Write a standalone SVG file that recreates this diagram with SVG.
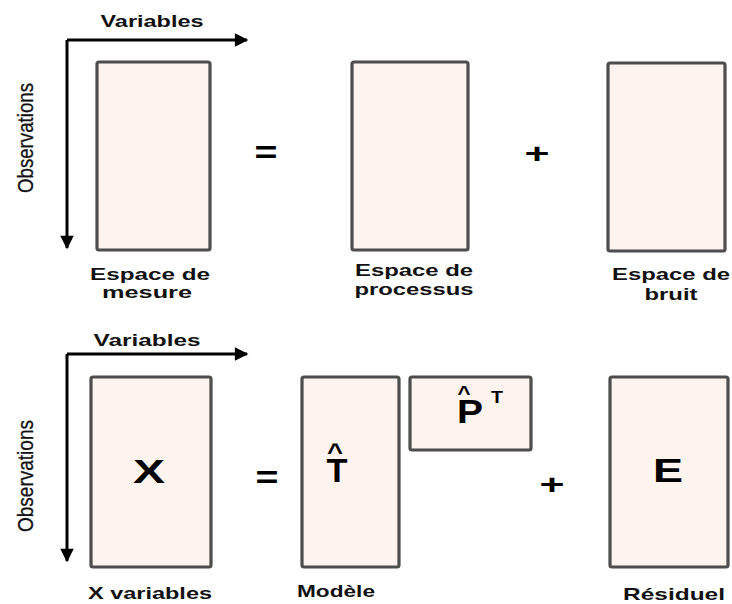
<svg xmlns="http://www.w3.org/2000/svg" width="732" height="604" viewBox="0 0 732 604">
<style>
.box{fill:#fdf3ef;stroke:#4d4d4d;stroke-width:3.2}
.lbl{font-family:"Liberation Sans",Arial,sans-serif;font-weight:bold;font-size:17px;fill:#111;text-anchor:middle}
.obs{font-family:"Liberation Sans",Arial,sans-serif;font-size:22px;fill:#111;text-anchor:middle;stroke:#111;stroke-width:0.3}
.big{font-family:"Liberation Sans",Arial,sans-serif;font-weight:bold;font-size:33px;fill:#000;text-anchor:middle}
.op{font-family:"Liberation Sans",Arial,sans-serif;font-weight:bold;fill:#000;text-anchor:middle}
.axis{stroke:#000;stroke-width:3;fill:none}
</style>
<defs>
<marker id="ah" viewBox="0 0 10 10" refX="9" refY="5" markerWidth="6" markerHeight="4.5" markerUnits="strokeWidth" orient="auto">
<path d="M0,0 L10,5 L0,10 Z" fill="#000"/>
</marker>
</defs>
<rect width="732" height="604" fill="#fff"/>
<g id="connectors">
<path class="axis" d="M67,40 H247" marker-end="url(#ah)"/>
<path class="axis" d="M67,40 V248" marker-end="url(#ah)"/>
<path class="axis" d="M67,354 H247" marker-end="url(#ah)"/>
<path class="axis" d="M67,354 V561" marker-end="url(#ah)"/>
</g>
<g id="axis-labels-top">
<text class="lbl" x="152" y="27" textLength="103" lengthAdjust="spacingAndGlyphs">Variables</text>
<text class="obs" transform="translate(33,138) rotate(-90)" textLength="110" lengthAdjust="spacingAndGlyphs">Observations</text>
</g>
<g id="axis-labels-bottom">
<text class="lbl" x="147" y="346" textLength="107" lengthAdjust="spacingAndGlyphs">Variables</text>
<text class="obs" transform="translate(33,476) rotate(-90)" textLength="112" lengthAdjust="spacingAndGlyphs">Observations</text>
</g>
<g id="mesure">
<rect class="box" x="97" y="62" width="113" height="188" rx="2"/>
<text class="lbl" x="150" y="280" textLength="120" lengthAdjust="spacingAndGlyphs">Espace de</text>
<text class="lbl" x="147" y="298" textLength="90" lengthAdjust="spacingAndGlyphs">mesure</text>
</g>
<g id="eq-top"><text class="op" x="266" y="163" font-size="32" textLength="23" lengthAdjust="spacingAndGlyphs">=</text></g>
<g id="processus">
<rect class="box" x="352" y="62" width="116" height="188" rx="2"/>
<text class="lbl" x="414" y="276" textLength="118" lengthAdjust="spacingAndGlyphs">Espace de</text>
<text class="lbl" x="414" y="295" textLength="119" lengthAdjust="spacingAndGlyphs">processus</text>
</g>
<g id="plus-top"><text class="op" x="537" y="163" font-size="28" textLength="25" lengthAdjust="spacingAndGlyphs">+</text></g>
<g id="bruit">
<rect class="box" x="608" y="63" width="117" height="188" rx="2"/>
<text class="lbl" x="671" y="280" textLength="118" lengthAdjust="spacingAndGlyphs">Espace de</text>
<text class="lbl" x="671" y="300" textLength="53" lengthAdjust="spacingAndGlyphs">bruit</text>
</g>
<g id="X">
<rect class="box" x="91" y="377" width="120" height="190" rx="2"/>
<text class="big" x="149" y="483" textLength="32" lengthAdjust="spacingAndGlyphs">X</text>
<text class="lbl" x="150" y="599" textLength="124" lengthAdjust="spacingAndGlyphs">X variables</text>
</g>
<g id="eq-bottom"><text class="op" x="267" y="488" font-size="32" textLength="23" lengthAdjust="spacingAndGlyphs">=</text></g>
<g id="T">
<rect class="box" x="302" y="377" width="97" height="190" rx="2"/>
<text class="op" x="335" y="460" font-size="24" textLength="16" lengthAdjust="spacingAndGlyphs">^</text>
<text class="big" x="337" y="482" textLength="21" lengthAdjust="spacingAndGlyphs">T</text>
<text class="lbl" x="336" y="597" textLength="78" lengthAdjust="spacingAndGlyphs">Modèle</text>
</g>
<g id="P">
<rect class="box" x="410" y="377" width="121" height="73" rx="2"/>
<text class="op" x="464" y="400" font-size="20" textLength="13" lengthAdjust="spacingAndGlyphs">^</text>
<text class="big" x="470" y="423" textLength="26" lengthAdjust="spacingAndGlyphs">P</text>
<text class="op" x="497" y="403" font-size="16" textLength="12" lengthAdjust="spacingAndGlyphs">T</text>
</g>
<g id="plus-bottom"><text class="op" x="552" y="494" font-size="28" textLength="25" lengthAdjust="spacingAndGlyphs">+</text></g>
<g id="E">
<rect class="box" x="610" y="377" width="118" height="190" rx="2"/>
<text class="big" x="668" y="482" textLength="30" lengthAdjust="spacingAndGlyphs">E</text>
<text class="lbl" x="674" y="600" textLength="102" lengthAdjust="spacingAndGlyphs">Résiduel</text>
</g>
</svg>
